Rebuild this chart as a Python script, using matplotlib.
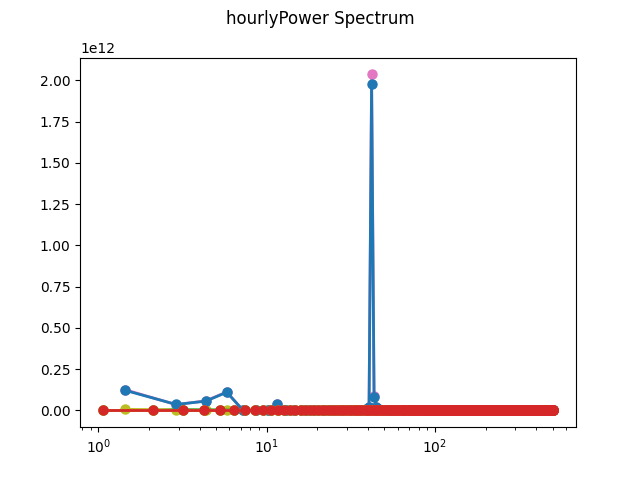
import numpy as np
import matplotlib
matplotlib.use("Agg")
import matplotlib.pyplot as plt

# two frequency grids seen in the picture (step * k)
fine_step, fine_n = 1.06, 477
coarse_step, coarse_n = 1.45, 349

# non-zero power values, index k -> value (units of 1e12)
pink_vals = {1: 0.125, 2: 0.035, 3: 0.058, 4: 0.112, 8: 0.038,
             27: 0.01, 28: 0.02, 29: 2.036, 30: 0.085, 31: 0.02, 57: 0.004}
blue_vals = {1: 0.121, 2: 0.036, 3: 0.056, 4: 0.11, 8: 0.036,
             26: 0.005, 27: 0.01, 28: 0.02, 29: 1.976, 30: 0.08, 31: 0.02, 32: 0.008}
olive_vals = {1: 0.006, 2: 0.004, 4: 0.003}
green_vals = {3: 0.004, 4: 0.004, 5: 0.003, 6: 0.002}
red_vals = {}


def series(vals, n):
    y = np.zeros(n)
    for k, v in vals.items():
        y[k - 1] = v * 1e12
    return y


fine_x = np.arange(1, fine_n + 1) * fine_step
coarse_x = np.arange(1, coarse_n + 1) * coarse_step

fig, ax = plt.subplots(figsize=(6.4, 4.8), dpi=100)
fig.suptitle("hourlyPower Spectrum")

style = dict(marker="o", linewidth=2, markersize=6.5)
ax.plot(coarse_x, series(pink_vals, coarse_n), color="tab:pink", **style)
ax.plot(coarse_x, series(olive_vals, coarse_n), color="tab:olive", **style)
ax.plot(fine_x, series(green_vals, fine_n), color="tab:green", **style)
ax.plot(coarse_x, series(blue_vals, coarse_n), color="tab:blue", **style)
ax.plot(fine_x, series({}, fine_n), color="tab:olive", **style)
ax.plot(fine_x, series(red_vals, fine_n), color="tab:red", **style)

ax.set_xscale("log")

fig.savefig("out.png")
